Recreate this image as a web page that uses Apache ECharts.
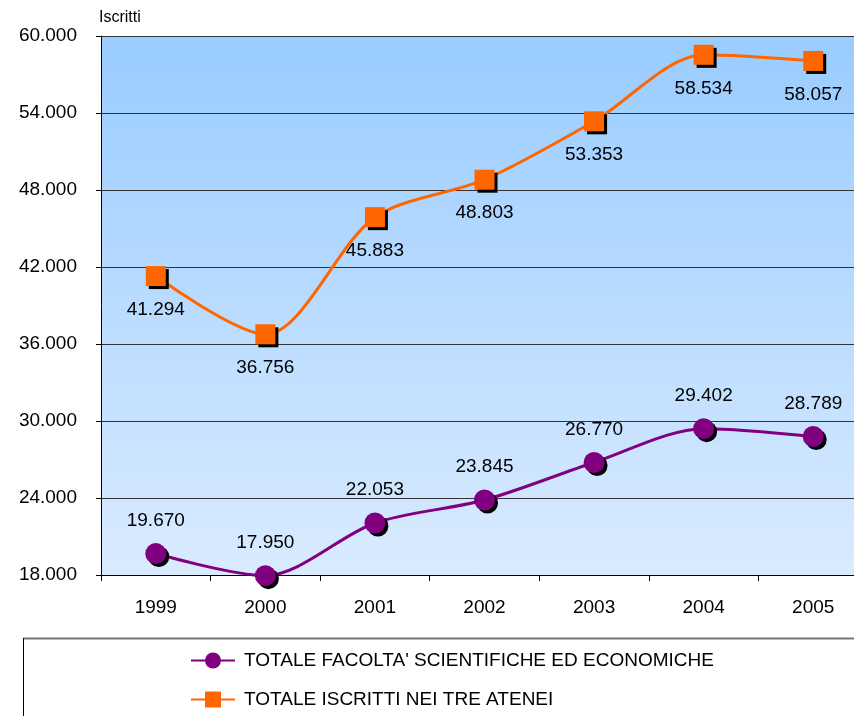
<!DOCTYPE html>
<html>
<head>
<meta charset="utf-8">
<script src="https://cdn.jsdelivr.net/npm/echarts@6/dist/echarts.min.js"></script>
<style>html,body{margin:0;padding:0;background:#fff}#c{width:854px;height:716px}</style>
</head>
<body>
<div id="c"></div>
<script>
const years = ['1999','2000','2001','2002','2003','2004','2005'];
const facolta = [19670, 17950, 22053, 23845, 26770, 29402, 28789];
const iscritti = [41294, 36756, 45883, 48803, 53353, 58534, 58057];
const seriesNames = ["TOTALE FACOLTA' SCIENTIFICHE ED ECONOMICHE", 'TOTALE ISCRITTI NEI TRE ATENEI'];
const yMin = 18000, yMax = 60000, yStep = 6000;
const axisTitle = 'Iscritti';

const FONT = '"Liberation Sans", Arial, sans-serif';
function fmt(v){ return String(v).replace(/\B(?=(\d{3})+(?!\d))/g, '.'); }

const chart = echarts.init(document.getElementById('c'), null, {renderer:'canvas'});
const shadow = {shadowColor:'#000', shadowBlur:0, shadowOffsetX:3, shadowOffsetY:3};
const noShadow = {shadowBlur:0, shadowOffsetX:0, shadowOffsetY:0, shadowColor:'rgba(0,0,0,0)'};
const legendBase = {orient:'horizontal', left:185, itemGap:10, itemWidth:44, itemHeight:20,
  textStyle:{fontFamily:FONT, fontSize:19, color:'#000', padding:[0,0,0,4]},
  itemStyle:noShadow};
chart.setOption({
  animation:false,
  backgroundColor:'#fff',
  textStyle:{fontFamily:FONT},
  title:{text:axisTitle, left:99, top:10, padding:0, textStyle:{fontFamily:FONT, fontSize:16, fontWeight:'normal', color:'#000'}},
  grid:{left:101, width:767, top:36, height:539, show:true, borderWidth:0,
    outerBoundsMode:'none', containLabel:false,
    backgroundColor:new echarts.graphic.LinearGradient(0,0,0,1,[{offset:0,color:'#99CCFF'},{offset:1,color:'#DAEBFF'}])},
  xAxis:{type:'category', data:years, boundaryGap:true,
    axisLine:{lineStyle:{color:'#000', width:1}},
    axisTick:{show:true, length:6, lineStyle:{color:'#000'}},
    axisLabel:{fontFamily:FONT, fontSize:19, color:'#000', margin:23}},
  yAxis:{type:'value', min:yMin, max:yMax, interval:yStep,
    axisLine:{show:true, lineStyle:{color:'#000', width:1}},
    axisTick:{show:true, length:5, lineStyle:{color:'#000'}},
    splitLine:{lineStyle:{color:'#333', width:1}},
    axisLabel:{fontFamily:FONT, fontSize:19, color:'#000', margin:24, formatter:fmt}},
  legend:[
    Object.assign({}, legendBase, {top:646, data:[seriesNames[0]]}),
    Object.assign({}, legendBase, {top:685, data:[seriesNames[1]]})
  ],
  graphic:[
    {type:'line', shape:{x1:23, y1:638.5, x2:854, y2:638.5}, style:{stroke:'#777', lineWidth:2}},
    {type:'line', shape:{x1:23.5, y1:638, x2:23.5, y2:716}, style:{stroke:'#000', lineWidth:1}}
  ],
  series:[
    {name:seriesNames[0], type:'line', data:facolta, smooth:0.3, clip:false,
      symbol:'circle', symbolSize:21,
      lineStyle:{color:'#800080', width:3},
      itemStyle:Object.assign({color:'#800080'}, shadow),
      label:{show:true, position:'top', distance:13, formatter:p=>fmt(p.value),
        fontFamily:FONT, fontSize:19, color:'#000'}},
    {name:seriesNames[1], type:'line', data:iscritti, smooth:0.3, clip:false,
      symbol:'rect', symbolSize:20,
      lineStyle:{color:'#FF6600', width:3},
      itemStyle:Object.assign({color:'#FF6600'}, shadow),
      label:{show:true, position:'bottom', distance:14, formatter:p=>fmt(p.value),
        fontFamily:FONT, fontSize:19, color:'#000'}}
  ]
});
</script>
</body>
</html>
